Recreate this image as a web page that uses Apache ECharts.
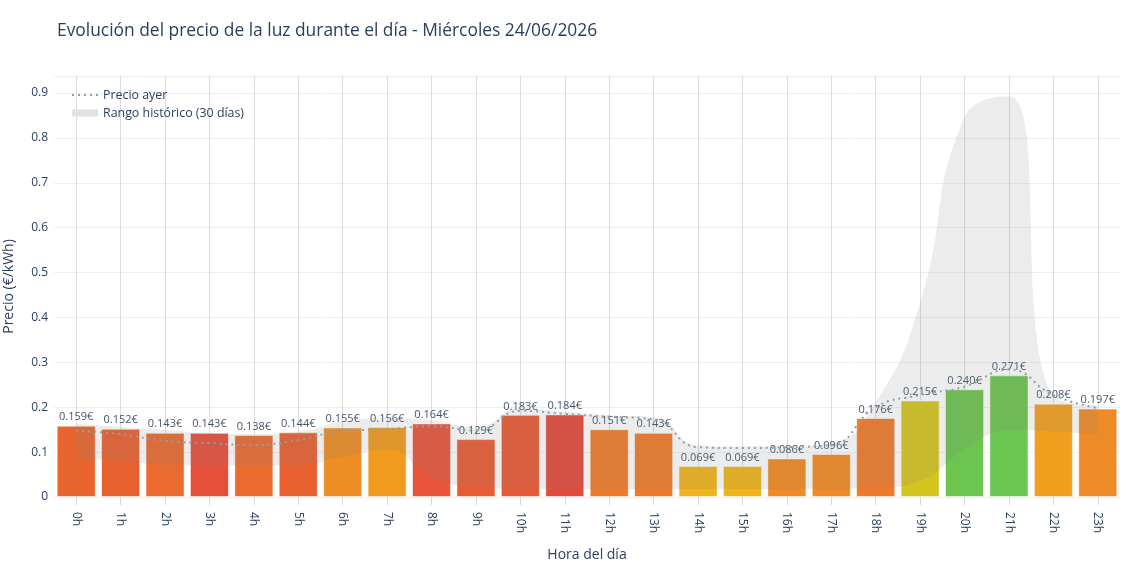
<!DOCTYPE html>
<html lang="es">
<head>
<meta charset="utf-8">
<title>Precio de la luz</title>
<script src="https://cdn.jsdelivr.net/npm/echarts@6/dist/echarts.min.js"></script>
<style>
  html, body { margin: 0; padding: 0; background: #fff; }
  #chart { width: 1140px; height: 570px; }
</style>
</head>
<body>
<div id="chart"></div>
<script>
// datos
var horas = ['0h','1h','2h','3h','4h','5h','6h','7h','8h','9h','10h','11h','12h','13h','14h','15h','16h','17h','18h','19h','20h','21h','22h','23h'];
var precioHoy = [0.159,0.152,0.143,0.143,0.138,0.144,0.155,0.156,0.164,0.129,0.183,0.184,0.151,0.143,0.069,0.069,0.086,0.096,0.176,0.215,0.240,0.271,0.208,0.197];
var precioAyer = [0.148,0.140,0.125,0.120,0.116,0.127,0.147,0.151,0.158,0.148,0.192,0.185,0.179,0.173,0.111,0.109,0.111,0.116,0.200,0.227,0.246,0.284,0.227,0.198];
var rangoMin = [0.085,0.080,0.072,0.071,0.071,0.071,0.090,0.106,0.045,0.022,0.018,0.018,0.018,0.018,0.018,0.018,0.018,0.018,0.020,0.036,0.105,0.148,0.146,0.138];
var rangoMax = [0.163,0.156,0.150,0.142,0.140,0.145,0.168,0.176,0.171,0.155,0.198,0.190,0.182,0.178,0.115,0.113,0.113,0.120,0.210,0.432,0.846,0.893,0.225,0.205];
var coloresBarra = ['#e8652f','#e8602f','#ea6a30','#e6503a','#ea6a30','#e8602f','#ee8d24','#f09a1e','#e8553a','#e85c33','#e85a35','#e44a3c','#ee7a2a','#ee7a2a','#f0b419','#f0b419','#f08a22','#f08a22','#ee7a2a','#d4c41e','#6cc54e','#6cc54e','#f0a01f','#ee8a28'];

var textColor = '#2a3f5f';
var myChart = echarts.init(document.getElementById('chart'));

var option = {
    animation: false,
    title: {
        text: 'Evolución del precio de la luz durante el día - Miércoles 24/06/2026',
        left: 57, top: 23, padding: 0,
        textStyle: { fontFamily: 'Open Sans', fontSize: 17.4, fontWeight: 'normal', color: textColor }
    },
    legend: {
        orient: 'vertical', left: 66, top: 84, itemWidth: 26, itemHeight: 7, itemGap: 6,
        textStyle: { fontFamily: 'Open Sans', fontSize: 12.4, color: textColor },
        data: [
            { name: 'Precio ayer', itemStyle: { opacity: 0 } },
            { name: 'Rango histórico (30 días)', icon: 'rect', itemStyle: { color: '#e2e2e2' } }
        ]
    },
    grid: { left: 54, right: 20, top: 76, bottom: 73, outerBoundsMode: 'none' },
    xAxis: {
        type: 'category',
        data: horas,
        name: 'Hora del día',
        nameLocation: 'middle',
        nameGap: 51,
        nameTextStyle: { fontFamily: 'Open Sans', fontSize: 14, color: textColor },
        axisLine: { show: true, lineStyle: { color: '#ebf0f8' } },
        axisTick: { show: true, alignWithLabel: true, interval: 0, length: 8, lineStyle: { color: '#d9d9d9' } },
        axisLabel: { interval: 0, rotate: -90, margin: 15, fontFamily: 'Open Sans', fontSize: 12, color: textColor },
        splitLine: { show: true, alignWithLabel: true, interval: 0, lineStyle: { color: '#dcdcdc' } }
    },
    yAxis: {
        type: 'value',
        min: 0, max: 0.938, interval: 0.1,
        name: 'Precio (€/kWh)',
        nameLocation: 'middle',
        nameGap: 38,
        nameTextStyle: { fontFamily: 'Open Sans', fontSize: 14, color: textColor },
        axisLine: { show: false },
        axisTick: { show: false },
        axisLabel: {
            showMaxLabel: false, margin: 6, fontFamily: 'Open Sans', fontSize: 12, color: textColor,
            formatter: function (v) { return v === 0 ? '0' : v.toFixed(1); }
        },
        splitLine: { lineStyle: { color: '#ebf0f8' } }
    },
    series: [
        {
            name: 'Precio',
            type: 'bar',
            z: 2,
            barCategoryGap: '12%',
            data: precioHoy.map(function (v, i) {
                return { value: v, itemStyle: { color: coloresBarra[i] } };
            }),
            itemStyle: { borderColor: 'rgba(255,255,255,0.55)', borderWidth: 1 },
            label: {
                show: true, position: 'top', distance: 3,
                fontFamily: 'Open Sans', fontSize: 11, color: '#44546a',
                formatter: function (p) { return p.value.toFixed(3) + '€'; }
            }
        },
        {
            name: 'rango_min',
            type: 'line',
            stack: 'rango',
            z: 3,
            smooth: 0.5,
            symbol: 'none',
            lineStyle: { width: 0, opacity: 0 },
            data: rangoMin,
            silent: true
        },
        {
            name: 'Rango histórico (30 días)',
            type: 'line',
            stack: 'rango',
            z: 3,
            smooth: 0.5,
            symbol: 'none',
            itemStyle: { color: '#e2e2e2' },
            lineStyle: { width: 0, opacity: 0 },
            areaStyle: { color: 'rgba(128,128,128,0.22)' },
            data: rangoMax.map(function (v, i) { return +(v - rangoMin[i]).toFixed(3); }),
            silent: true
        },
        {
            name: 'Precio ayer',
            type: 'line',
            z: 4,
            smooth: 0.5,
            symbol: 'none',
            itemStyle: { color: '#8fa0a3' },
            lineStyle: { color: '#8fa0a3', width: 2, type: [2, 4] },
            data: precioAyer
        }
    ]
};

myChart.setOption(option);
window.onresize = function () { myChart.resize(); };
</script>
</body>
</html>
